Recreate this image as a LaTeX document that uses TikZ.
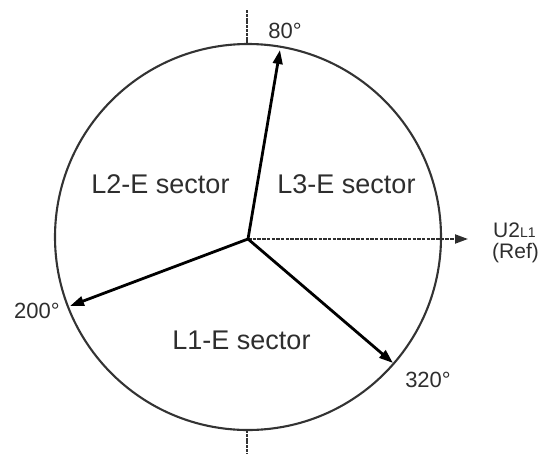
\documentclass[tikz,border=0pt]{standalone}
\usepackage{fontspec}
\setmainfont{Liberation Sans}
\usetikzlibrary{arrows.meta}
\definecolor{ink}{HTML}{2E2E2E}
\definecolor{rim}{HTML}{333333}
\tikzset{
  rimline/.style={draw=rim, line width=2.1pt},
  tickline/.style={draw=rim, line width=2.1pt, dash pattern=on 3pt off 0.8pt},
  phasor/.style={draw=black, line width=2.8pt, -{Triangle[length=14pt,width=9.5pt]}},
  refline/.style={draw=ink, line width=2pt, dash pattern=on 3.5pt off 1.2pt, -{Triangle[length=13pt,width=9pt]}},
  sectorlabel/.style={text=ink, font=\fontsize{27}{30}\selectfont, anchor=base, inner sep=0pt},
  anglabel/.style={text=ink, font=\fontsize{22}{24}\selectfont, anchor=base, inner sep=0pt},
}
\begin{document}
\begin{tikzpicture}[x=1pt, y=-1pt]
\useasboundingbox (0,0) rectangle (546,453);
% geometry
\coordinate (C) at (248,237);
\coordinate (O) at (248,239);
\coordinate (T80) at (280,50);
\coordinate (T200) at (70,306);
\coordinate (T320) at (393,363);
\coordinate (Tref) at (468,239);
\coordinate (TopA) at (247,10);
\coordinate (TopB) at (247,44);
\coordinate (BotA) at (247,430);
\coordinate (BotB) at (247,453);
% circle and ticks
\draw[rimline] (C) circle[radius=193];
\draw[tickline] (TopA) -- (TopB);
\draw[tickline] (BotA) -- (BotB);
% phasors
\draw[refline] (O) -- (Tref);
\draw[phasor] (O) -- (T80);
\draw[phasor] (O) -- (T200);
\draw[phasor] (O) -- (T320);
% labels
\node[sectorlabel] (s2) at (160.5,193) {L2-E sector};
\node[sectorlabel] (s3) at (346.5,193) {L3-E sector};
\node[sectorlabel] (s1) at (241.5,349) {L1-E sector};
\node[anglabel] (a80) at (285,38) {80°};
\node[anglabel] (a200) at (37,318) {200°};
\node[anglabel] (a320) at (428,387) {320°};
\node[text=ink, font=\fontsize{21}{23}\selectfont, anchor=base west, inner sep=0pt] (u2) at (493,237) {U2{\fontsize{14}{14}\selectfont L1}};
\node[text=ink, font=\fontsize{21}{23}\selectfont, anchor=base west, inner sep=0pt] (ref) at (492,258) {(Ref)};
\end{tikzpicture}
\end{document}
